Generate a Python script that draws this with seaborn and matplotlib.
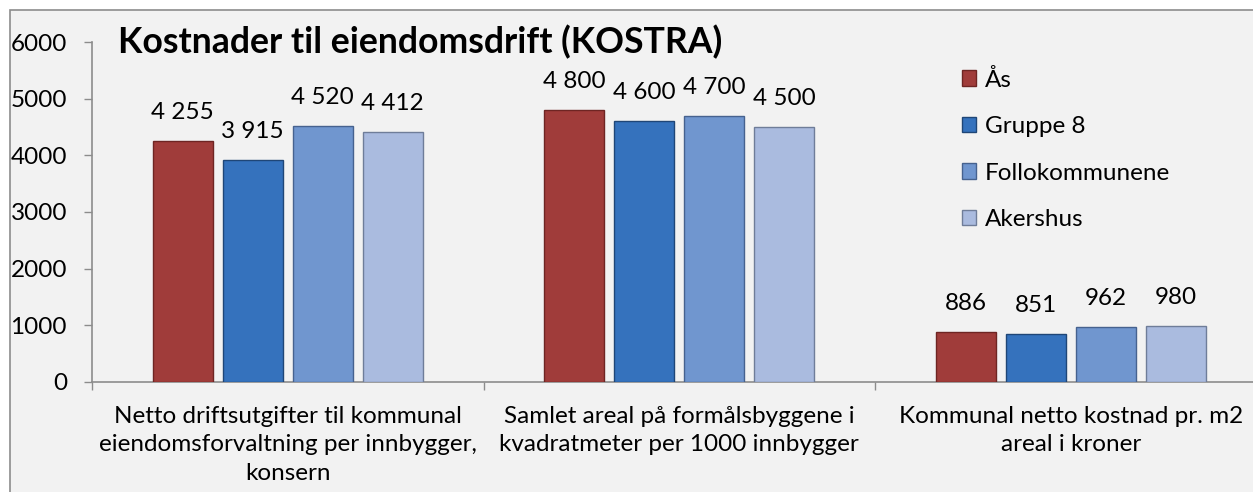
import pandas as pd
import matplotlib.pyplot as plt
import matplotlib.patches as mpatches
import seaborn as sns

# data
kategorier = ["Netto driftsutgifter til kommunal\neiendomsforvaltning per innbygger,\nkonsern",
              "Samlet areal på formålsbyggene i\nkvadratmeter per 1000 innbygger",
              "Kommunal netto kostnad pr. m2\nareal i kroner"]
grupper = ["Ås", "Gruppe 8", "Follokommunene", "Akershus"]
aas = [4255, 4800, 886]
gruppe8 = [3915, 4600, 851]
follo = [4520, 4700, 962]
akershus = [4412, 4500, 980]
farger = ["#a03c3a", "#3572bd", "#7096cf", "#aabbdf"]
kanter = ["#6e2523", "#1f4677", "#46628f", "#6f7d99"]

rows = []
for g, vals in zip(grupper, [aas, gruppe8, follo, akershus]):
    for k, v in zip(kategorier, vals):
        rows.append({"kategori": k, "gruppe": g, "verdi": v})
df = pd.DataFrame(rows)

sns.set_style("white")
plt.rcParams['font.family'] = ['Lato', 'DejaVu Sans']
plt.rcParams['text.color'] = 'black'
plt.rcParams['xtick.labelcolor'] = 'black'
plt.rcParams['ytick.labelcolor'] = 'black'

W, H = 1253, 492
fs = 17.5
fig = plt.figure(figsize=(W / 100, H / 100), dpi=100)
fig.patch.set_facecolor("white")
# chart area background with border
bg = mpatches.Rectangle((10 / W, -0.1), 1.2, 1 - 10 / H + 0.1,
                        transform=fig.transFigure, facecolor="#f2f2f2",
                        edgecolor="#8c8c8c", linewidth=1.2, zorder=-10)
fig.add_artist(bg)

ax = fig.add_axes([92 / W, (H - 382) / H, 1174.5 / W, 340 / H])
ax.set_facecolor("none")

sns.barplot(data=df, x="kategori", y="verdi", hue="gruppe", palette=farger,
            saturation=1, width=0.715, gap=0.145, ax=ax, legend=False, zorder=3)

for cont, kant in zip(ax.containers, kanter):
    for bar in cont:
        bar.set_edgecolor(kant)
        bar.set_linewidth(1.0)
    ax.bar_label(cont, labels=[f"{int(v):,}".replace(",", " ") for v in cont.datavalues],
                 padding=13, fontsize=fs, color="black")

ax.set_ylim(0, 6000)
ax.set_xlim(-0.5, 2.5)
ax.set_yticks(range(0, 6001, 1000))
ax.tick_params(axis="y", direction="out", length=6, width=1, color="#8c8c8c",
               labelsize=fs, pad=12, left=True)
ax.set_xticks([0, 1, 2])
ax.set_xticklabels(kategorier, fontsize=fs, linespacing=1.45)
ax.set_xticks([-0.5, 0.5, 1.5], minor=True)
ax.tick_params(axis="x", which="major", length=0, pad=17)
ax.tick_params(axis="x", which="minor", direction="out", length=6, width=1,
               color="#8c8c8c", bottom=True)
ax.set_xlabel("")
ax.set_ylabel("")
for s in ["top", "right"]:
    ax.spines[s].set_visible(False)
for s in ["left", "bottom"]:
    ax.spines[s].set_color("#8c8c8c")
    ax.spines[s].set_linewidth(1.2)

fig.text(118 / W, 1 - 42 / H, "Kostnader til eiendomsdrift (KOSTRA)",
         fontsize=25.7, fontweight="bold", va="center", ha="left")

handles = [mpatches.Patch(facecolor=c, edgecolor=k) for c, k in zip(farger, kanter)]
fig.legend(handles, grupper, loc="upper left", bbox_to_anchor=(952 / W, 1 - 59 / H),
           frameon=False, fontsize=fs, handlelength=0.6, handleheight=0.6,
           handletextpad=0.35, labelspacing=1.05, borderaxespad=0)

fig.savefig("out.png", dpi=100, facecolor=fig.get_facecolor())
